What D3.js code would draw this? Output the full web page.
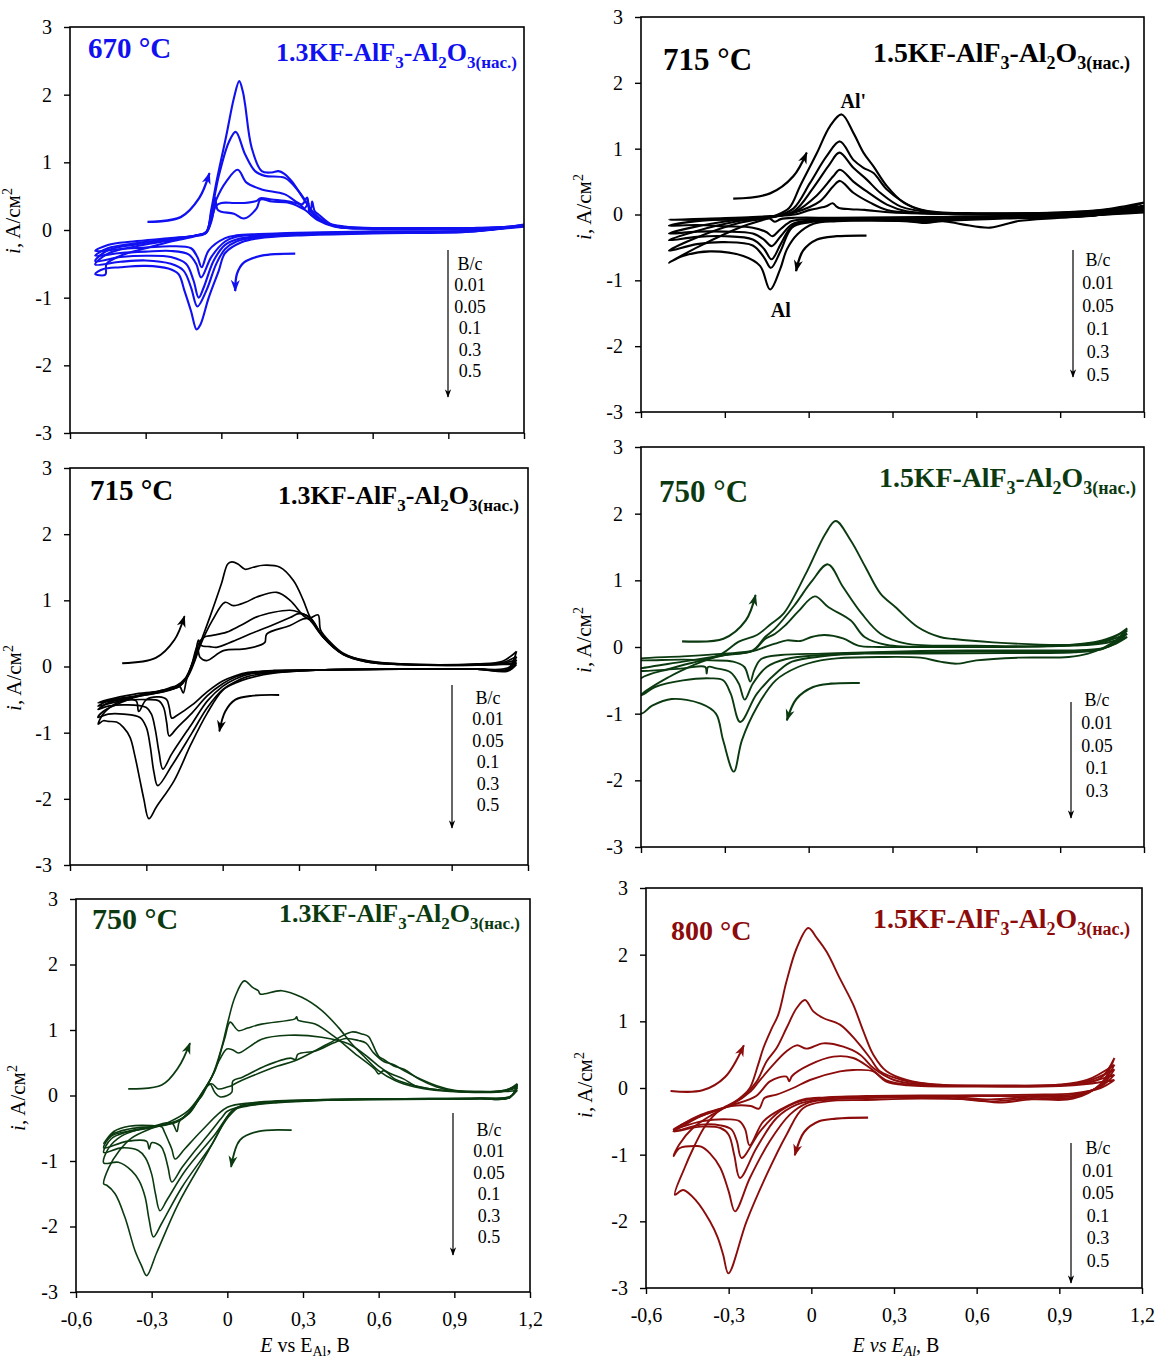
<!DOCTYPE html>
<html><head><meta charset="utf-8">
<script src="https://cdn.jsdelivr.net/npm/d3@7"></script>
<style>
body{margin:0;background:#fff;}
svg text{font-family:"Liberation Serif","Times New Roman",serif;}
</style></head><body>
<svg id="chart" width="1168" height="1363"></svg>
<script>
// ---------- axis / label data ----------
const xTickValues = [-0.6,-0.3,0,0.3,0.6,0.9,1.2];
const xTickLabels = ["-0,6","-0,3","0","0,3","0,6","0,9","1,2"];
const yTickValues = [-3,-2,-1,0,1,2,3];
const yTickLabels = ["-3","-2","-1","0","1","2","3"];
const legendTitle = "B/c";
const rates5 = ["0.01","0.05","0.1","0.3","0.5"];
const rates4 = ["0.01","0.05","0.1","0.3"];
const formula13 = [["1.3KF-AlF",0],["3",1],["-Al",0],["2",1],["O",0],["3(нас.)",1]];
const formula15 = [["1.5KF-AlF",0],["3",1],["-Al",0],["2",1],["O",0],["3(нас.)",1]];

// ---------- Panel 1: 670 °C, 1.3KF ----------
const p1_v001 = [[1.2,0.05],[1.0,-0.01],[0.6,-0.02],[0.3,-0.04],[0.15,-0.06],[0.06,-0.08],[0.015,-0.12],[-0.05,-0.3],[-0.078,-0.55],[-0.095,-0.4],[-0.12,-0.27],[-0.2,-0.24],[-0.3,-0.26],[-0.4,-0.28],[-0.5,-0.31],
[-0.45,-0.22],[-0.35,-0.17],[-0.2,-0.12],[-0.1,-0.08],[-0.06,-0.04],[-0.04,0.12],[-0.03,0.3],[-0.025,0.48],[-0.015,0.3],[0.0,0.27],[0.05,0.24],[0.09,0.17],[0.14,0.32],[0.155,0.45],[0.2,0.42],[0.27,0.4],[0.33,0.3],[0.38,0.15],[0.45,0.05],[0.6,0.02],[0.9,0.02],[1.1,0.03],[1.2,0.05]];
const p1_v005 = [[1.2,0.06],[1.0,-0.01],[0.6,-0.03],[0.3,-0.05],[0.15,-0.07],[0.06,-0.1],[0.015,-0.17],[-0.04,-0.4],[-0.08,-0.7],[-0.1,-0.5],[-0.13,-0.36],[-0.2,-0.31],[-0.3,-0.32],[-0.4,-0.34],[-0.5,-0.38],
[-0.45,-0.27],[-0.35,-0.2],[-0.2,-0.13],[-0.1,-0.08],[-0.06,-0.04],[-0.04,0.15],[-0.02,0.36],[0.0,0.4],[0.05,0.4],[0.09,0.4],[0.14,0.43],[0.155,0.47],[0.2,0.45],[0.27,0.42],[0.31,0.38],[0.33,0.32],[0.345,0.4],[0.35,0.25],[0.4,0.13],[0.46,0.05],[0.6,0.02],[0.9,0.02],[1.1,0.03],[1.2,0.06]];
const p1_v01 = [[1.2,0.07],[1.0,-0.01],[0.6,-0.03],[0.3,-0.06],[0.15,-0.09],[0.06,-0.14],[0.015,-0.22],[-0.03,-0.45],[-0.07,-0.85],[-0.09,-1.0],[-0.11,-0.75],[-0.14,-0.5],[-0.2,-0.4],[-0.3,-0.38],[-0.4,-0.4],[-0.5,-0.46],
[-0.45,-0.3],[-0.35,-0.22],[-0.2,-0.14],[-0.1,-0.08],[-0.06,-0.03],[-0.04,0.2],[-0.02,0.45],[0.02,0.72],[0.065,0.89],[0.1,0.7],[0.16,0.6],[0.25,0.53],[0.32,0.38],[0.34,0.48],[0.35,0.3],[0.39,0.16],[0.46,0.05],[0.6,0.02],[0.9,0.02],[1.1,0.04],[1.2,0.07]];
const p1_v03 = [[1.2,0.07],[1.0,-0.02],[0.6,-0.04],[0.3,-0.07],[0.15,-0.1],[0.06,-0.17],[0.015,-0.28],[-0.02,-0.5],[-0.06,-0.9],[-0.095,-1.13],[-0.12,-0.85],[-0.15,-0.6],[-0.2,-0.5],[-0.3,-0.45],[-0.4,-0.47],[-0.5,-0.51],
[-0.45,-0.35],[-0.35,-0.25],[-0.2,-0.15],[-0.1,-0.08],[-0.06,-0.03],[-0.04,0.25],[-0.01,0.8],[0.03,1.3],[0.057,1.45],[0.094,1.12],[0.134,0.87],[0.173,0.8],[0.252,0.77],[0.305,0.58],[0.33,0.45],[0.36,0.28],[0.41,0.12],[0.49,0.05],[0.6,0.03],[0.9,0.02],[1.1,0.04],[1.2,0.07]];
const p1_v05 = [[1.2,0.08],[1.0,-0.02],[0.6,-0.05],[0.3,-0.08],[0.15,-0.12],[0.08,-0.18],[0.015,-0.34],[-0.01,-0.6],[-0.05,-1.0],[-0.083,-1.4],[-0.098,-1.47],[-0.12,-1.2],[-0.146,-0.9],[-0.17,-0.65],[-0.21,-0.57],[-0.3,-0.53],[-0.4,-0.55],[-0.47,-0.58],[-0.5,-0.65],
[-0.46,-0.66],[-0.455,-0.5],[-0.4,-0.38],[-0.3,-0.27],[-0.2,-0.17],[-0.1,-0.09],[-0.06,-0.04],[-0.04,0.3],[-0.02,0.7],[0.02,1.4],[0.05,1.95],[0.071,2.2],[0.085,2.05],[0.094,1.86],[0.12,1.22],[0.16,0.87],[0.2,0.85],[0.226,0.87],[0.25,0.83],[0.279,0.72],[0.332,0.43],[0.355,0.32],[0.36,0.42],[0.37,0.28],[0.385,0.23],[0.437,0.08],[0.49,0.04],[0.7,0.03],[1.0,0.03],[1.15,0.05],[1.2,0.08]];
const p1_start = [[-0.293,0.12],[-0.161,0.19],[-0.088,0.47],[-0.047,0.84]];
const p1_cath = [[0.293,-0.35],[0.16,-0.38],[0.09,-0.48],[0.062,-0.65],[0.055,-0.9]];

// ---------- Panel 2: 715 °C, 1.5KF ----------
const p2_c1 = [[1.2,0.03],[1.0,-0.01],[0.7,-0.03],[0.4,-0.04],[0.1,-0.05],[-0.05,-0.05],[-0.1,-0.07],[-0.122,-0.11],[-0.14,-0.06],[-0.2,-0.07],[-0.35,-0.08],[-0.5,-0.08],
[-0.35,-0.06],[-0.2,-0.04],[-0.12,-0.02],[-0.05,0.0],[0.005,0.07],[0.06,0.12],[0.086,0.17],[0.1,0.12],[0.108,0.1],[0.15,0.08],[0.2,0.07],[0.3,0.03],[0.5,0.01],[0.8,0.0],[1.0,0.01],[1.2,0.03]];
const p2_c2 = [[1.2,0.06],[1.0,-0.02],[0.7,-0.04],[0.4,-0.05],[0.1,-0.06],[0.0,-0.07],[-0.06,-0.1],[-0.1,-0.22],[-0.13,-0.33],[-0.15,-0.27],[-0.2,-0.2],[-0.3,-0.18],[-0.4,-0.16],[-0.5,-0.17],
[-0.4,-0.1],[-0.25,-0.06],[-0.12,-0.03],[-0.05,0.03],[0.04,0.2],[0.088,0.43],[0.112,0.51],[0.16,0.33],[0.22,0.18],[0.28,0.07],[0.4,0.02],[0.7,0.0],[1.0,0.02],[1.2,0.06]];
const p2_c3 = [[1.2,0.08],[1.0,-0.02],[0.7,-0.05],[0.4,-0.06],[0.1,-0.07],[0.0,-0.09],[-0.06,-0.15],[-0.1,-0.33],[-0.133,-0.48],[-0.16,-0.38],[-0.2,-0.29],[-0.3,-0.26],[-0.4,-0.26],[-0.5,-0.29],
[-0.4,-0.18],[-0.25,-0.08],[-0.12,-0.03],[-0.05,0.04],[0.029,0.29],[0.088,0.58],[0.112,0.68],[0.16,0.5],[0.208,0.35],[0.28,0.15],[0.35,0.05],[0.5,0.01],[0.8,0.01],[1.0,0.03],[1.2,0.08]];
const p2_c4 = [[1.2,0.1],[1.0,-0.02],[0.7,-0.05],[0.45,-0.08],[0.1,-0.08],[0.0,-0.1],[-0.06,-0.18],[-0.1,-0.45],[-0.133,-0.68],[-0.16,-0.52],[-0.2,-0.38],[-0.3,-0.33],[-0.4,-0.34],[-0.5,-0.39],
[-0.4,-0.25],[-0.25,-0.1],[-0.12,-0.03],[-0.05,0.06],[0.017,0.41],[0.076,0.77],[0.11,0.94],[0.16,0.71],[0.208,0.53],[0.256,0.33],[0.33,0.12],[0.45,0.03],[0.8,0.01],[1.0,0.04],[1.2,0.1]];
const p2_c5 = [[1.2,0.13],[1.0,-0.02],[0.7,-0.06],[0.45,-0.1],[0.1,-0.09],[0.0,-0.12],[-0.06,-0.2],[-0.1,-0.55],[-0.135,-0.81],[-0.16,-0.65],[-0.2,-0.47],[-0.3,-0.42],[-0.4,-0.45],[-0.5,-0.55],
[-0.4,-0.35],[-0.25,-0.13],[-0.12,-0.03],[-0.055,0.09],[0.005,0.48],[0.065,0.89],[0.112,1.11],[0.16,0.83],[0.196,0.71],[0.232,0.63],[0.28,0.38],[0.37,0.12],[0.45,0.04],[0.8,0.02],[1.0,0.05],[1.2,0.13]];
const p2_c6 = [[1.2,0.18],[1.05,0.0],[0.9,-0.05],[0.75,-0.1],[0.65,-0.2],[0.55,-0.15],[0.48,-0.1],[0.42,-0.13],[0.35,-0.1],[0.1,-0.1],[0.017,-0.14],[-0.04,-0.3],[-0.078,-0.53],[-0.102,-0.83],[-0.138,-1.14],[-0.174,-0.78],[-0.234,-0.63],[-0.353,-0.56],[-0.45,-0.63],[-0.5,-0.73],
[-0.39,-0.48],[-0.235,-0.18],[-0.128,-0.03],[-0.07,0.1],[-0.031,0.43],[0.029,0.93],[0.076,1.34],[0.118,1.52],[0.16,1.24],[0.196,0.94],[0.232,0.73],[0.28,0.43],[0.34,0.18],[0.42,0.05],[0.6,0.02],[0.9,0.03],[1.05,0.07],[1.2,0.18]];
const p2_start = [[-0.27,0.24],[-0.138,0.32],[-0.055,0.58],[-0.007,0.94]];
const p2_cath = [[0.207,-0.32],[0.1,-0.33],[0.03,-0.38],[-0.02,-0.55],[-0.045,-0.86]];

// ---------- Panel 3: 715 °C, 1.3KF ----------
const p3_v001 = [[1.155,0.03],[1.12,-0.07],[1.0,-0.04],[0.7,-0.04],[0.4,-0.05],[0.2,-0.06],[0.1,-0.09],[0.05,-0.14],[0.0,-0.22],[-0.06,-0.38],[-0.12,-0.58],[-0.18,-0.74],[-0.2,-0.78],[-0.21,-0.62],[-0.22,-0.5],[-0.25,-0.46],[-0.3,-0.5],[-0.33,-0.68],[-0.34,-0.52],[-0.4,-0.5],[-0.49,-0.55],
[-0.45,-0.5],[-0.35,-0.42],[-0.25,-0.37],[-0.17,-0.3],[-0.155,-0.4],[-0.142,-0.2],[-0.12,0.05],[-0.1,0.3],[-0.089,0.14],[-0.063,0.09],[0.003,0.24],[0.094,0.27],[0.165,0.36],[0.173,0.49],[0.265,0.62],[0.317,0.72],[0.343,0.73],[0.375,0.78],[0.385,0.55],[0.42,0.38],[0.474,0.2],[0.566,0.08],[0.7,0.03],[1.0,0.02],[1.1,0.03],[1.155,0.03]];
const p3_v005 = [[1.155,0.06],[1.12,-0.06],[1.0,-0.04],[0.7,-0.04],[0.4,-0.05],[0.2,-0.07],[0.1,-0.1],[0.05,-0.16],[0.0,-0.26],[-0.06,-0.44],[-0.12,-0.7],[-0.18,-0.93],[-0.21,-1.05],[-0.22,-0.85],[-0.232,-0.62],[-0.25,-0.52],[-0.3,-0.5],[-0.4,-0.52],[-0.49,-0.6],
[-0.45,-0.52],[-0.35,-0.45],[-0.25,-0.38],[-0.17,-0.3],[-0.142,-0.15],[-0.11,0.15],[-0.095,0.4],[-0.085,0.32],[-0.05,0.3],[-0.024,0.29],[0.04,0.38],[0.107,0.49],[0.18,0.6],[0.265,0.74],[0.3,0.8],[0.343,0.74],[0.396,0.45],[0.474,0.18],[0.566,0.07],[0.7,0.03],[1.0,0.02],[1.1,0.04],[1.155,0.06]];
const p3_v01 = [[1.155,0.1],[1.12,-0.05],[1.0,-0.04],[0.7,-0.04],[0.4,-0.05],[0.2,-0.08],[0.1,-0.12],[0.05,-0.19],[0.0,-0.3],[-0.06,-0.52],[-0.12,-0.86],[-0.2,-1.32],[-0.235,-1.55],[-0.25,-1.3],[-0.265,-0.95],[-0.28,-0.72],[-0.3,-0.62],[-0.38,-0.58],[-0.45,-0.6],[-0.49,-0.65],
[-0.45,-0.55],[-0.38,-0.48],[-0.3,-0.43],[-0.22,-0.37],[-0.17,-0.3],[-0.142,-0.17],[-0.11,0.15],[-0.09,0.38],[-0.07,0.45],[-0.04,0.47],[0.016,0.52],[0.07,0.62],[0.134,0.75],[0.2,0.82],[0.265,0.85],[0.3,0.82],[0.343,0.74],[0.396,0.44],[0.474,0.18],[0.566,0.07],[0.7,0.03],[1.0,0.03],[1.1,0.05],[1.155,0.1]];
const p3_v03 = [[1.155,0.15],[1.12,-0.04],[1.0,-0.04],[0.7,-0.04],[0.4,-0.05],[0.2,-0.09],[0.1,-0.15],[0.05,-0.23],[0.0,-0.35],[-0.06,-0.62],[-0.12,-1.0],[-0.2,-1.5],[-0.255,-1.8],[-0.27,-1.6],[-0.285,-1.2],[-0.3,-0.92],[-0.325,-0.77],[-0.39,-0.72],[-0.45,-0.72],[-0.49,-0.77],
[-0.47,-0.68],[-0.42,-0.58],[-0.35,-0.47],[-0.25,-0.39],[-0.19,-0.33],[-0.142,-0.18],[-0.11,0.08],[-0.09,0.3],[-0.04,0.7],[0.009,0.97],[0.042,0.92],[0.09,0.97],[0.134,1.05],[0.213,1.12],[0.265,1.0],[0.317,0.77],[0.343,0.7],[0.396,0.44],[0.474,0.19],[0.566,0.08],[0.7,0.04],[1.0,0.03],[1.1,0.06],[1.155,0.15]];
const p3_v05 = [[1.155,0.23],[1.13,0.0],[1.1,-0.04],[1.0,-0.04],[0.7,-0.04],[0.4,-0.05],[0.2,-0.1],[0.1,-0.18],[0.05,-0.25],[0.0,-0.36],[-0.06,-0.7],[-0.124,-1.17],[-0.19,-1.72],[-0.26,-2.12],[-0.29,-2.3],[-0.31,-2.0],[-0.325,-1.72],[-0.345,-1.35],[-0.364,-1.07],[-0.39,-0.92],[-0.417,-0.84],[-0.45,-0.83],[-0.469,-0.82],[-0.489,-0.87],
[-0.47,-0.72],[-0.42,-0.56],[-0.33,-0.44],[-0.25,-0.37],[-0.19,-0.31],[-0.142,-0.16],[-0.11,0.1],[-0.089,0.34],[-0.05,0.75],[-0.005,1.25],[0.02,1.55],[0.036,1.58],[0.06,1.55],[0.088,1.47],[0.12,1.5],[0.16,1.53],[0.225,1.5],[0.278,1.3],[0.317,1.0],[0.343,0.75],[0.396,0.44],[0.474,0.19],[0.566,0.09],[0.7,0.04],[1.0,0.04],[1.1,0.08],[1.155,0.23]];
const p3_start = [[-0.395,0.05],[-0.263,0.13],[-0.19,0.4],[-0.15,0.76]];
const p3_cath = [[0.222,-0.43],[0.12,-0.44],[0.05,-0.5],[0.01,-0.68],[-0.013,-0.98]];

// ---------- Panel 4: 750 °C, 1.5KF ----------
const p4_v001 = [[1.14,0.15],[1.1,0.05],[1.05,-0.02],[0.95,-0.05],[0.7,-0.05],[0.4,-0.06],[0.2,-0.08],[0.05,-0.1],[-0.1,-0.12],[-0.17,-0.18],[-0.195,-0.35],[-0.209,-0.52],[-0.23,-0.3],[-0.27,-0.22],[-0.35,-0.2],[-0.45,-0.19],[-0.6,-0.2],[-0.63,-0.19],
[-0.6,-0.17],[-0.45,-0.14],[-0.3,-0.1],[-0.2,-0.06],[-0.156,0.0],[-0.12,0.05],[-0.078,0.1],[-0.03,0.09],[0.01,0.15],[0.056,0.18],[0.123,0.13],[0.177,0.02],[0.25,0.0],[0.4,0.0],[0.7,0.0],[0.95,0.02],[1.05,0.05],[1.14,0.15]];
const p4_v005 = [[1.14,0.2],[1.1,0.06],[1.05,-0.03],[0.95,-0.07],[0.7,-0.07],[0.4,-0.08],[0.2,-0.09],[0.05,-0.12],[-0.08,-0.18],[-0.15,-0.3],[-0.2,-0.55],[-0.229,-0.79],[-0.25,-0.55],[-0.28,-0.38],[-0.33,-0.32],[-0.36,-0.3],[-0.365,-0.4],[-0.37,-0.3],[-0.45,-0.32],[-0.6,-0.36],[-0.63,-0.35],
[-0.6,-0.32],[-0.45,-0.22],[-0.3,-0.12],[-0.2,-0.06],[-0.156,0.12],[-0.12,0.2],[-0.085,0.32],[-0.038,0.53],[0.022,0.76],[0.07,0.6],[0.15,0.4],[0.2,0.15],[0.28,0.03],[0.5,0.0],[0.8,0.01],[0.95,0.03],[1.05,0.07],[1.14,0.2]];
const p4_v01 = [[1.14,0.25],[1.1,0.08],[1.05,-0.03],[0.95,-0.08],[0.7,-0.09],[0.4,-0.1],[0.2,-0.1],[0.05,-0.14],[-0.06,-0.22],[-0.105,-0.35],[-0.185,-0.7],[-0.245,-1.125],[-0.279,-0.7],[-0.306,-0.5],[-0.35,-0.47],[-0.45,-0.5],[-0.55,-0.6],[-0.6,-0.72],[-0.63,-0.65],
[-0.6,-0.47],[-0.5,-0.33],[-0.4,-0.22],[-0.3,-0.12],[-0.2,-0.05],[-0.156,0.15],[-0.12,0.28],[-0.05,0.63],[0.01,0.98],[0.069,1.24],[0.123,0.9],[0.19,0.5],[0.257,0.2],[0.35,0.05],[0.6,0.02],[0.9,0.02],[1.05,0.1],[1.14,0.25]];
const p4_v03 = [[1.14,0.28],[1.1,0.1],[1.06,0.0],[1.0,-0.1],[0.93,-0.15],[0.75,-0.16],[0.6,-0.2],[0.53,-0.25],[0.47,-0.22],[0.4,-0.16],[0.25,-0.15],[0.1,-0.17],[0.043,-0.2],[-0.038,-0.3],[-0.118,-0.5],[-0.185,-0.9],[-0.239,-1.4],[-0.268,-1.87],[-0.306,-1.4],[-0.332,-1.0],[-0.386,-0.85],[-0.49,-0.78],[-0.56,-0.88],[-0.6,-1.0],[-0.63,-0.9],
[-0.6,-0.72],[-0.5,-0.45],[-0.4,-0.25],[-0.31,-0.1],[-0.25,0.08],[-0.185,0.18],[-0.134,0.35],[-0.09,0.5],[-0.01,1.1],[0.06,1.7],[0.097,1.89],[0.15,1.6],[0.203,1.2],[0.257,0.8],[0.31,0.6],[0.39,0.3],[0.47,0.15],[0.52,0.12],[0.66,0.07],[0.9,0.03],[1.0,0.05],[1.08,0.12],[1.14,0.28]];
const p4_start = [[-0.453,0.085],[-0.305,0.125],[-0.225,0.4],[-0.19,0.78]];
const p4_cath = [[0.183,-0.54],[0.08,-0.55],[0.016,-0.6],[-0.044,-0.78],[-0.078,-1.1]];

// ---------- Panel 5: 750 °C, 1.3KF ----------
const p5_v001 = [[1.15,0.08],[1.12,-0.02],[1.0,-0.04],[0.7,-0.05],[0.4,-0.06],[0.2,-0.08],[0.1,-0.11],[0.0,-0.18],[-0.1,-0.53],[-0.17,-0.82],[-0.207,-0.97],[-0.22,-0.82],[-0.234,-0.69],[-0.25,-0.55],[-0.26,-0.48],[-0.3,-0.46],[-0.39,-0.47],[-0.45,-0.55],[-0.49,-0.73],
[-0.46,-0.6],[-0.4,-0.52],[-0.3,-0.47],[-0.22,-0.42],[-0.2,-0.55],[-0.19,-0.4],[-0.15,-0.26],[-0.12,-0.1],[-0.1,0.0],[-0.07,0.18],[-0.05,0.05],[-0.03,-0.02],[0.0,0.0],[0.018,0.05],[0.022,0.22],[0.06,0.28],[0.15,0.45],[0.25,0.57],[0.27,0.55],[0.28,0.63],[0.35,0.68],[0.42,0.8],[0.47,0.87],[0.52,0.84],[0.55,0.8],[0.58,0.65],[0.62,0.52],[0.66,0.47],[0.7,0.38],[0.75,0.28],[0.83,0.15],[0.9,0.08],[1.0,0.06],[1.1,0.06],[1.15,0.08]];
const p5_v005 = [[1.15,0.12],[1.12,-0.02],[1.0,-0.04],[0.7,-0.05],[0.4,-0.06],[0.2,-0.09],[0.1,-0.13],[0.0,-0.24],[-0.02,-0.33],[-0.08,-0.62],[-0.13,-0.85],[-0.18,-1.1],[-0.22,-1.32],[-0.235,-1.1],[-0.25,-0.88],[-0.265,-0.77],[-0.3,-0.72],[-0.31,-0.82],[-0.32,-0.7],[-0.4,-0.7],[-0.49,-0.8],
[-0.46,-0.62],[-0.4,-0.55],[-0.3,-0.48],[-0.2,-0.4],[-0.15,-0.27],[-0.12,-0.1],[-0.09,0.1],[-0.062,0.18],[-0.036,0.1],[0.0,0.13],[0.017,0.15],[0.03,0.18],[0.1,0.3],[0.2,0.45],[0.268,0.53],[0.4,0.79],[0.493,0.97],[0.533,0.94],[0.56,0.9],[0.573,0.81],[0.6,0.6],[0.62,0.55],[0.66,0.45],[0.7,0.4],[0.76,0.25],[0.83,0.13],[0.9,0.07],[1.0,0.05],[1.1,0.07],[1.15,0.12]];
const p5_v01 = [[1.15,0.14],[1.12,-0.03],[1.0,-0.05],[0.7,-0.05],[0.4,-0.07],[0.2,-0.1],[0.1,-0.14],[0.03,-0.2],[-0.05,-0.6],[-0.167,-1.15],[-0.24,-1.6],[-0.267,-1.76],[-0.285,-1.5],[-0.3,-1.2],[-0.325,-0.95],[-0.353,-0.84],[-0.42,-0.8],[-0.49,-0.87],
[-0.46,-0.66],[-0.4,-0.56],[-0.3,-0.49],[-0.2,-0.4],[-0.15,-0.25],[-0.1,0.02],[-0.06,0.3],[-0.03,0.55],[-0.002,0.71],[0.02,0.7],[0.044,0.65],[0.09,0.75],[0.136,0.86],[0.242,0.92],[0.374,0.89],[0.48,0.79],[0.559,0.58],[0.6,0.45],[0.638,0.35],[0.7,0.25],[0.744,0.15],[0.85,0.08],[1.0,0.05],[1.1,0.08],[1.15,0.14]];
const p5_v03 = [[1.15,0.16],[1.12,-0.03],[1.0,-0.05],[0.7,-0.05],[0.4,-0.07],[0.2,-0.11],[0.1,-0.15],[0.02,-0.23],[-0.06,-0.74],[-0.18,-1.4],[-0.26,-1.95],[-0.293,-2.16],[-0.31,-1.9],[-0.326,-1.55],[-0.35,-1.3],[-0.379,-1.15],[-0.432,-1.02],[-0.49,-1.03],
[-0.47,-0.8],[-0.42,-0.62],[-0.35,-0.52],[-0.26,-0.45],[-0.18,-0.35],[-0.13,-0.15],[-0.09,0.1],[-0.049,0.38],[-0.02,0.75],[-0.009,0.89],[0.011,1.12],[0.044,0.99],[0.08,1.03],[0.136,1.09],[0.268,1.17],[0.275,1.2],[0.28,1.15],[0.348,1.09],[0.427,0.89],[0.506,0.64],[0.585,0.4],[0.6,0.33],[0.62,0.38],[0.665,0.25],[0.744,0.15],[0.85,0.08],[1.0,0.06],[1.1,0.08],[1.15,0.16]];
const p5_v05 = [[1.15,0.18],[1.12,-0.03],[1.0,-0.05],[0.7,-0.06],[0.4,-0.07],[0.162,-0.1],[0.057,-0.15],[0.004,-0.33],[-0.089,-0.94],[-0.194,-1.65],[-0.28,-2.4],[-0.32,-2.75],[-0.34,-2.6],[-0.366,-2.37],[-0.406,-1.86],[-0.445,-1.5],[-0.478,-1.37],[-0.49,-1.35],
[-0.47,-1.1],[-0.43,-0.85],[-0.38,-0.65],[-0.3,-0.5],[-0.234,-0.41],[-0.155,-0.23],[-0.102,0.03],[-0.062,0.28],[-0.022,0.74],[0.004,1.15],[0.03,1.5],[0.067,1.75],[0.1,1.65],[0.123,1.6],[0.13,1.55],[0.216,1.6],[0.295,1.5],[0.374,1.3],[0.44,1.04],[0.493,0.79],[0.546,0.58],[0.599,0.38],[0.665,0.23],[0.744,0.13],[0.82,0.08],[0.95,0.05],[1.1,0.07],[1.15,0.18]];
const p5_start = [[-0.393,0.1],[-0.26,0.16],[-0.194,0.43],[-0.148,0.8]];
const p5_cath = [[0.255,-0.53],[0.12,-0.55],[0.05,-0.68],[0.015,-1.09]];

// ---------- Panel 6: 800 °C, 1.5KF ----------
const p6_v001 = [[1.1,0.12],[1.05,0.0],[0.95,-0.08],[0.8,-0.1],[0.5,-0.11],[0.2,-0.12],[0.05,-0.14],[-0.029,-0.17],[-0.102,-0.3],[-0.174,-0.5],[-0.224,-0.86],[-0.24,-0.62],[-0.26,-0.5],[-0.3,-0.47],[-0.4,-0.5],[-0.5,-0.62],
[-0.47,-0.55],[-0.4,-0.42],[-0.29,-0.27],[-0.22,-0.27],[-0.19,-0.31],[-0.17,-0.15],[-0.126,-0.1],[-0.066,0.0],[-0.005,0.12],[0.104,0.25],[0.152,0.27],[0.225,0.25],[0.27,0.1],[0.35,0.04],[0.6,0.02],[0.9,0.03],[1.0,0.06],[1.1,0.12]];
const p6_v005 = [[1.1,0.2],[1.05,0.02],[0.95,-0.1],[0.8,-0.12],[0.5,-0.12],[0.2,-0.13],[0.05,-0.15],[-0.041,-0.2],[-0.114,-0.35],[-0.186,-0.65],[-0.253,-1.05],[-0.27,-0.8],[-0.29,-0.62],[-0.33,-0.56],[-0.4,-0.55],[-0.5,-0.65],
[-0.47,-0.55],[-0.4,-0.4],[-0.29,-0.26],[-0.2,-0.12],[-0.15,0.1],[-0.09,0.17],[-0.08,0.1],[-0.07,0.18],[-0.005,0.35],[0.08,0.47],[0.152,0.45],[0.213,0.3],[0.27,0.12],[0.35,0.05],[0.6,0.03],[0.9,0.04],[1.0,0.08],[1.1,0.2]];
const p6_v01 = [[1.1,0.28],[1.05,0.03],[0.95,-0.12],[0.8,-0.13],[0.65,-0.17],[0.5,-0.13],[0.2,-0.14],[0.05,-0.16],[-0.053,-0.25],[-0.126,-0.45],[-0.199,-0.9],[-0.259,-1.35],[-0.28,-1.0],[-0.3,-0.7],[-0.33,-0.6],[-0.4,-0.58],[-0.5,-0.65],
[-0.47,-0.58],[-0.4,-0.42],[-0.29,-0.25],[-0.22,-0.05],[-0.19,0.1],[-0.138,0.35],[-0.09,0.55],[-0.053,0.64],[-0.017,0.59],[0.043,0.67],[0.116,0.62],[0.177,0.5],[0.225,0.3],[0.3,0.12],[0.4,0.05],[0.6,0.03],[0.9,0.05],[1.0,0.1],[1.1,0.28]];
const p6_v03 = [[1.1,0.35],[1.05,0.05],[0.95,-0.14],[0.8,-0.15],[0.65,-0.2],[0.5,-0.15],[0.2,-0.15],[0.05,-0.18],[-0.017,-0.23],[-0.078,-0.4],[-0.151,-0.8],[-0.223,-1.35],[-0.277,-1.85],[-0.3,-1.55],[-0.33,-1.2],[-0.368,-0.98],[-0.4,-0.88],[-0.416,-0.87],[-0.477,-0.9],[-0.5,-1.02],
[-0.48,-0.85],[-0.43,-0.6],[-0.36,-0.4],[-0.29,-0.24],[-0.247,-0.13],[-0.198,0.1],[-0.162,0.4],[-0.126,0.6],[-0.09,0.9],[-0.053,1.2],[-0.023,1.32],[0.007,1.15],[0.043,1.05],[0.104,0.95],[0.165,0.7],[0.213,0.45],[0.249,0.25],[0.33,0.12],[0.42,0.06],[0.7,0.03],[0.9,0.05],[1.0,0.12],[1.1,0.35]];
const p6_v05 = [[1.1,0.45],[1.05,0.06],[0.95,-0.16],[0.8,-0.17],[0.68,-0.22],[0.6,-0.18],[0.4,-0.16],[0.2,-0.18],[0.056,-0.2],[-0.029,-0.3],[-0.09,-0.7],[-0.162,-1.3],[-0.235,-2.0],[-0.301,-2.78],[-0.32,-2.5],[-0.34,-2.24],[-0.368,-2.0],[-0.416,-1.7],[-0.465,-1.53],[-0.495,-1.6],
[-0.46,-1.2],[-0.428,-0.9],[-0.39,-0.6],[-0.356,-0.42],[-0.32,-0.3],[-0.283,-0.22],[-0.25,-0.12],[-0.223,0.0],[-0.193,0.35],[-0.174,0.6],[-0.144,0.89],[-0.12,1.1],[-0.09,1.6],[-0.053,2.1],[-0.011,2.4],[0.02,2.25],[0.056,2.04],[0.104,1.64],[0.152,1.25],[0.189,0.85],[0.225,0.5],[0.273,0.25],[0.346,0.12],[0.455,0.05],[0.7,0.04],[0.95,0.05],[1.05,0.15],[1.1,0.45]];
const p6_start = [[-0.511,-0.045],[-0.395,-0.035],[-0.313,0.165],[-0.245,0.64]];
const p6_cath = [[0.206,-0.445],[0.09,-0.46],[0.028,-0.5],[-0.026,-0.66],[-0.06,-1.01]];

// ---------- layout config ----------
const BLUE="#1010f0", BLACK="#000000", GREEN="#0b3a10", RED="#8c0c0c";
const panels = [
 {id:"p1",box:[70,27,524,433],color:BLUE,lw:2.1,curves:[p1_v001,p1_v005,p1_v01,p1_v03,p1_v05],start:p1_start,cath:p1_cath,
  temp:"670 °C",tempX:88,tempY:58,tempSize:29,formula:formula13,fRight:517,fY:61,fSize:26,
  leg:{x:448,top:250,bottom:397,tx:470,y0:264,step:21.4,rates:rates5},ylab:[20,221],xlab:false},
 {id:"p2",box:[641,17,1144,412],color:BLACK,lw:2.1,curves:[p2_c1,p2_c2,p2_c3,p2_c4,p2_c5,p2_c6],start:p2_start,cath:p2_cath,
  temp:"715 °C",tempX:663,tempY:70,tempSize:31,formula:formula15,fRight:1130,fY:62,fSize:27.8,
  leg:{x:1073,top:250,bottom:377,tx:1098,y0:260,step:23,rates:rates5},ylab:[591,207],xlab:false},
 {id:"p3",box:[70,468,528,865],color:BLACK,lw:1.7,curves:[p3_v001,p3_v005,p3_v01,p3_v03,p3_v05],start:p3_start,cath:p3_cath,
  temp:"715 °C",tempX:90,tempY:500,tempSize:29,formula:formula13,fRight:519,fY:504,fSize:26,
  leg:{x:452,top:685,bottom:828,tx:488,y0:698,step:21.4,rates:rates5},ylab:[21,678],xlab:false},
 {id:"p4",box:[641,447,1144,847],color:GREEN,lw:1.9,curves:[p4_v001,p4_v005,p4_v01,p4_v03],start:p4_start,cath:p4_cath,
  temp:"750 °C",tempX:659,tempY:502,tempSize:31,formula:formula15,fRight:1136,fY:487,fSize:27.8,
  leg:{x:1071,top:702,bottom:818,tx:1097,y0:700,step:22.8,rates:rates4},ylab:[591,640],xlab:false},
 {id:"p5",box:[76,899,530,1292],color:GREEN,lw:1.6,curves:[p5_v001,p5_v005,p5_v01,p5_v03,p5_v05],start:p5_start,cath:p5_cath,
  temp:"750 °C",tempX:92,tempY:929,tempSize:30,formula:formula13,fRight:520,fY:922,fSize:26,
  leg:{x:453,top:1113,bottom:1255,tx:489,y0:1130,step:21.4,rates:rates5},ylab:[25,1098],xlab:true,italicAll:false},
 {id:"p6",box:[646,888,1142,1288],color:RED,lw:1.9,curves:[p6_v001,p6_v005,p6_v01,p6_v03,p6_v05],start:p6_start,cath:p6_cath,
  temp:"800 °C",tempX:671,tempY:940,tempSize:28,formula:formula15,fRight:1130,fY:928,fSize:27.8,
  leg:{x:1071,top:1143,bottom:1283,tx:1098,y0:1148,step:22.6,rates:rates5},ylab:[592,1085],xlab:true,italicAll:true}
];

const svg = d3.select("#chart");
const defs = svg.append("defs");
function addMarker(id,color,w,h){
  defs.append("marker").attr("id",id).attr("viewBox","0 0 12 10").attr("refX",11).attr("refY",5)
    .attr("markerWidth",w).attr("markerHeight",h).attr("markerUnits","userSpaceOnUse").attr("orient","auto")
    .append("path").attr("d","M0,0.5 L12,5 L0,9.5 L3.5,5 Z").attr("fill",color);
}
addMarker("leg","#000",13,7);

function richText(sel, pieces, size, subSize, shift){
  let prevSub=false;
  pieces.forEach(([t,sub])=>{
    const dy=(sub?shift:0)-(prevSub?shift:0);
    sel.append("tspan").text(t).attr("font-size",sub?subSize:size).attr("dy",dy);
    prevSub=sub;
  });
}

panels.forEach(p=>{
  const [L,T,R,B]=p.box;
  const x=d3.scaleLinear().domain([-0.6,1.2]).range([L,R]);
  const y=d3.scaleLinear().domain([-3,3]).range([B,T]);
  const g=svg.append("g");
  addMarker("m-"+p.id,p.color,14,10);
  defs.append("clipPath").attr("id","clip-"+p.id).append("rect").attr("x",L).attr("y",T).attr("width",R-L).attr("height",B-T);
  const line=d3.line().x(d=>x(d[0])).y(d=>y(d[1])).curve(d3.curveCatmullRom.alpha(0.5));

  g.append("g").attr("clip-path",`url(#clip-${p.id})`)
    .selectAll("path").data(p.curves).join("path")
    .attr("d",line).attr("fill","none").attr("stroke",p.color).attr("stroke-width",p.lw).attr("stroke-linejoin","round");

  [p.start,p.cath].forEach(a=>{
    g.append("path").attr("d",line(a)).attr("fill","none").attr("stroke",p.color)
      .attr("stroke-width",p.lw+0.2).attr("marker-end",`url(#m-${p.id})`);
  });

  g.append("rect").attr("x",L).attr("y",T).attr("width",R-L).attr("height",B-T)
    .attr("fill","none").attr("stroke","#000").attr("stroke-width",1.6);

  const ya=d3.axisLeft(y).tickValues(yTickValues).tickSize(6).tickPadding(12).tickFormat((d,i)=>yTickLabels[i]);
  const yg=g.append("g").attr("transform",`translate(${L},0)`).call(ya);
  yg.select(".domain").remove();
  yg.selectAll("line").attr("stroke","#000").attr("stroke-width",1.4);
  yg.selectAll("text").attr("font-size",20).attr("font-family","Liberation Serif").attr("fill","#000");

  const xa=d3.axisBottom(x).tickValues(xTickValues).tickSize(6).tickPadding(14).tickFormat((d,i)=>p.xlab?xTickLabels[i]:"");
  const xg=g.append("g").attr("transform",`translate(0,${B})`).call(xa);
  xg.select(".domain").remove();
  xg.selectAll("line").attr("stroke","#000").attr("stroke-width",1.4);
  xg.selectAll("text").attr("font-size",20).attr("font-family","Liberation Serif").attr("fill","#000");

  g.append("text").attr("x",p.tempX).attr("y",p.tempY).attr("font-size",p.tempSize).attr("font-weight","bold")
    .attr("fill",p.color).text(p.temp);
  const ft=g.append("text").attr("x",p.fRight).attr("y",p.fY).attr("text-anchor","end")
    .attr("font-weight","bold").attr("fill",p.color);
  richText(ft,p.formula,p.fSize,Math.round(p.fSize*0.66),7);

  const yl=g.append("text").attr("transform",`translate(${p.ylab[0]},${p.ylab[1]}) rotate(-90)`)
    .attr("text-anchor","middle").attr("font-size",21).attr("fill","#000");
  yl.append("tspan").text("i").attr("font-style","italic");
  yl.append("tspan").text(", A/см");
  yl.append("tspan").text("2").attr("font-size",14).attr("dy",-8);

  const lg=p.leg;
  g.append("line").attr("x1",lg.x).attr("x2",lg.x).attr("y1",lg.top).attr("y2",lg.bottom)
    .attr("stroke","#000").attr("stroke-width",1.2).attr("marker-end","url(#leg)");
  [legendTitle].concat(lg.rates).forEach((t,k)=>{
    g.append("text").attr("x",lg.tx).attr("y",lg.y0+k*lg.step).attr("text-anchor","middle")
      .attr("dominant-baseline","central").attr("font-size",18).attr("fill","#000").text(t);
  });

  if(p.xlab){
    const xt=g.append("text").attr("x",(L+R)/2+2).attr("y",1352).attr("text-anchor","middle").attr("font-size",20).attr("fill","#000");
    if(p.italicAll){
      xt.append("tspan").text("E vs E").attr("font-style","italic");
      xt.append("tspan").text("Al").attr("font-style","italic").attr("font-size",14).attr("dy",4);
      xt.append("tspan").text(", B").attr("dy",-4);
    } else {
      xt.append("tspan").text("E").attr("font-style","italic");
      xt.append("tspan").text(" vs E");
      xt.append("tspan").text("Al").attr("font-size",14).attr("dy",4);
      xt.append("tspan").text(", B").attr("dy",-4);
    }
  }
});

// peak labels on panel 2
const p2x=d3.scaleLinear().domain([-0.6,1.2]).range([641,1144]);
const p2y=d3.scaleLinear().domain([-3,3]).range([412,17]);
const peakLabels=[["Al'",0.16,1.72],["Al",-0.1,-1.45]];
svg.append("g").selectAll("text").data(peakLabels).join("text")
  .attr("x",d=>p2x(d[1])).attr("y",d=>p2y(d[2])).attr("text-anchor","middle").attr("dominant-baseline","central")
  .attr("font-size",20).attr("font-weight","bold").attr("fill","#000").text(d=>d[0]);
</script>
</body></html>
